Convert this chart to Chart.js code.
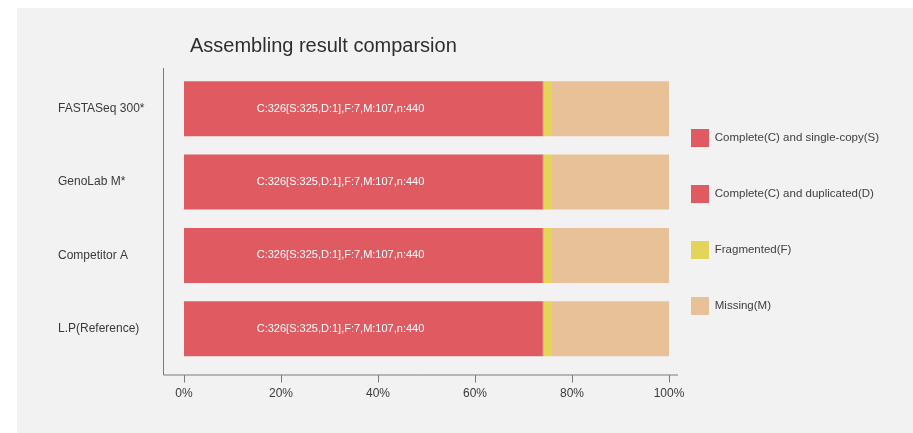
<!DOCTYPE html>
<html>
<head>
<meta charset="utf-8">
<script src="https://cdn.jsdelivr.net/npm/chart.js@4.4.1/dist/chart.umd.min.js"></script>
<style>
  html, body { margin: 0; padding: 0; background: #ffffff; }
  #wrap { position: absolute; left: 17px; top: 8px; width: 896px; height: 425px; background: #f2f2f2; }
</style>
</head>
<body>
<div id="wrap"><canvas id="buscoChart"></canvas></div>
<script>
const chartTitle = "Assembling result comparsion";
const platforms = ["FASTASeq 300*", "GenoLab M*", "Competitor A", "L.P(Reference)"];
const singleCopy = [325, 325, 325, 325];
const duplicated = [1, 1, 1, 1];
const fragmented = [7, 7, 7, 7];
const missing = [107, 107, 107, 107];
const totals = [440, 440, 440, 440];
const xTicks = [0, 20, 40, 60, 80, 100];

const fontFamily = '"Liberation Sans", Arial, sans-serif';
const textColor = "#3a3a3a";
const axisColor = "#7a7a7a";

function pct(arr) {
    return arr.map((v, i) => v / totals[i] * 100);
}

function summary(i) {
    const c = singleCopy[i] + duplicated[i];
    return "C:" + c + "[S:" + singleCopy[i] + ",D:" + duplicated[i] + "],F:" + fragmented[i] +
        ",M:" + missing[i] + ",n:" + totals[i];
}

// axis lines sit a bit outside the plot area, like the original
const axisFrame = {
    id: "axisFrame",
    afterDraw(chart) {
        const { ctx, chartArea: a, scales: { x } } = chart;
        const left = a.left - 21, top = a.top - 4, bottom = a.bottom + 9, right = a.right + 9;
        ctx.save();
        ctx.strokeStyle = axisColor;
        ctx.lineWidth = 1;
        ctx.beginPath();
        ctx.moveTo(left + 0.5, top);
        ctx.lineTo(left + 0.5, bottom + 0.5);
        ctx.lineTo(right, bottom + 0.5);
        x.ticks.forEach(t => {
            const px = Math.round(x.getPixelForValue(t.value)) + 0.5;
            ctx.moveTo(px, bottom + 0.5);
            ctx.lineTo(px, bottom + 8);
        });
        ctx.stroke();
        ctx.restore();
    }
};

const titleText = {
    id: "titleText",
    afterDraw(chart) {
        const { ctx, chartArea: a } = chart;
        ctx.save();
        ctx.font = "20px " + fontFamily;
        ctx.fillStyle = "#2e2e2e";
        ctx.textAlign = "left";
        ctx.textBaseline = "alphabetic";
        ctx.fillText(chartTitle, a.left + 6, a.top - 20);
        ctx.restore();
    }
};

const barText = {
    id: "barText",
    afterDatasetsDraw(chart) {
        const { ctx, scales: { x } } = chart;
        const meta = chart.getDatasetMeta(0);
        ctx.save();
        ctx.font = "11px " + fontFamily;
        ctx.fillStyle = "#ffffff";
        ctx.textAlign = "left";
        ctx.textBaseline = "middle";
        meta.data.forEach((bar, i) => {
            ctx.fillText(summary(i), x.getPixelForValue(15), bar.y);
        });
        ctx.restore();
    }
};

const baseLabels = Chart.defaults.plugins.legend.labels.generateLabels;

new Chart(document.getElementById("buscoChart"), {
    type: "bar",
    data: {
        labels: platforms,
        datasets: [
            { label: "Complete(C) and single-copy(S)", data: pct(singleCopy), backgroundColor: "#df5b61" },
            { label: "Complete(C) and duplicated(D)", data: pct(duplicated), backgroundColor: "#df5b61" },
            { label: "Fragmented(F)", data: pct(fragmented), backgroundColor: "#e3d55a" },
            { label: "Missing(M)", data: pct(missing), backgroundColor: "#e8c198" }
        ]
    },
    options: {
        indexAxis: "y",
        responsive: true,
        maintainAspectRatio: false,
        animation: false,
        events: [],
        datasets: {
            bar: { borderWidth: 0, barPercentage: 0.75, categoryPercentage: 1 }
        },
        layout: { padding: { left: 41, top: 64, right: 24, bottom: 27.5 } },
        scales: {
            x: {
                stacked: true,
                min: 0,
                max: 100,
                grid: { display: false, drawTicks: false },
                border: { display: false },
                afterBuildTicks: s => { s.ticks = xTicks.map(v => ({ value: v })); },
                ticks: {
                    color: textColor,
                    font: { size: 12, family: fontFamily },
                    padding: 21,
                    callback: v => v + "%"
                },
                afterFit: s => { s.height = 40; s.paddingLeft = 0; s.paddingRight = 0; }
            },
            y: {
                stacked: true,
                grid: { display: false, drawTicks: false },
                border: { display: false },
                ticks: {
                    color: textColor,
                    font: { size: 12, family: fontFamily },
                    crossAlign: "far",
                    padding: 0
                },
                afterFit: s => { s.width = 126; s.paddingTop = 0; s.paddingBottom = 0; }
            }
        },
        plugins: {
            title: { display: false },
            tooltip: { enabled: false },
            legend: {
                position: "right",
                align: "start",
                maxWidth: 300,
                // empty title only used as top spacing for the legend column
                title: { display: true, text: "", padding: 0, font: { size: 12, lineHeight: "35px" } },
                labels: {
                    boxWidth: 18,
                    boxHeight: 18,
                    padding: 22,
                    color: "#404040",
                    font: { size: 11.5, family: fontFamily, lineHeight: "34px" },
                    generateLabels: chart => baseLabels(chart).map(item => {
                        item.text = [item.text];
                        return item;
                    })
                }
            }
        }
    },
    plugins: [axisFrame, titleText, barText]
});
</script>
</body>
</html>
